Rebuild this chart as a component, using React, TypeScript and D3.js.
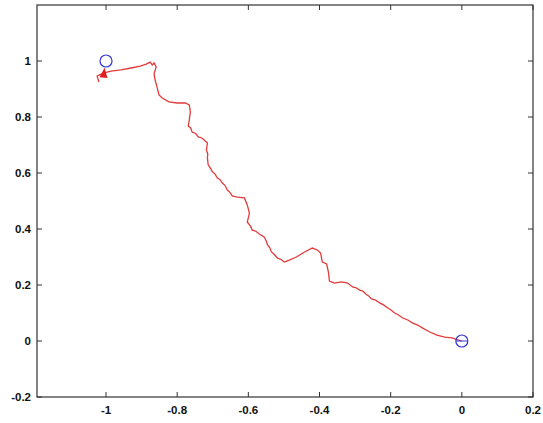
import React from "react";
import * as d3 from "d3";

// path of the walker, from the start near (-1, 1) to the target at (0, 0)
const pathX = [
  -1.02, -1.025, -1.008, -0.986, -0.958, -0.93, -0.904, -0.887, -0.876, -0.87,
  -0.865, -0.859, -0.865, -0.862, -0.856, -0.851, -0.842, -0.823, -0.8, -0.777,
  -0.766, -0.763, -0.766, -0.769, -0.762, -0.758, -0.748, -0.741, -0.732, -0.724,
  -0.715, -0.718, -0.714, -0.715, -0.713, -0.708, -0.701, -0.694, -0.687, -0.68,
  -0.673, -0.666, -0.659, -0.652, -0.645, -0.631, -0.611, -0.603, -0.597, -0.603,
  -0.594, -0.589, -0.579, -0.569, -0.555, -0.55, -0.546, -0.54, -0.535, -0.527,
  -0.518, -0.508, -0.499, -0.485, -0.465, -0.442, -0.42, -0.406, -0.397, -0.392,
  -0.38, -0.375, -0.372, -0.358, -0.338, -0.321, -0.307, -0.297, -0.287, -0.278,
  -0.27, -0.262, -0.254, -0.242, -0.231, -0.22, -0.208, -0.199, -0.189, -0.178,
  -0.166, -0.152, -0.138, -0.124, -0.11, -0.09, -0.07, -0.048, -0.028, -0.011, 0,
];
const pathY = [
  0.925, 0.946, 0.957, 0.964, 0.968, 0.975, 0.982, 0.989, 0.996, 0.986,
  0.993, 0.979, 0.954, 0.932, 0.904, 0.879, 0.868, 0.854, 0.85, 0.85,
  0.843, 0.818, 0.789, 0.768, 0.761, 0.746, 0.741, 0.729, 0.726, 0.718,
  0.707, 0.682, 0.668, 0.654, 0.629, 0.62, 0.604, 0.597, 0.582, 0.577,
  0.564, 0.556, 0.539, 0.531, 0.518, 0.514, 0.511, 0.486, 0.457, 0.425,
  0.41, 0.396, 0.392, 0.382, 0.371, 0.358, 0.343, 0.334, 0.318, 0.309,
  0.296, 0.291, 0.282, 0.289, 0.3, 0.318, 0.332, 0.325, 0.314, 0.282,
  0.275, 0.246, 0.214, 0.207, 0.211, 0.207, 0.193, 0.19, 0.182, 0.178,
  0.168, 0.161, 0.15, 0.146, 0.136, 0.129, 0.118, 0.111, 0.1, 0.093,
  0.082, 0.075, 0.064, 0.057, 0.046, 0.032, 0.021, 0.014, 0.011, 0.004, 0,
];

// circle markers (goal and origin)
const markerX = [-1, 0];
const markerY = [1, 0];

// arrow near the start, tail -> tip
const arrowTail = [-1.01, 0.91];
const arrowTip = [-1.004, 0.976];

const xTicks = [-1, -0.8, -0.6, -0.4, -0.2, 0, 0.2];
const yTicks = [-0.2, 0, 0.2, 0.4, 0.6, 0.8, 1];

const W = 543;
const H = 423;
const left = 37;
const right = 533;
const top = 5;
const bottom = 397;

export default function App() {
  const x = d3.scaleLinear().domain([-1.194, 0.2]).range([left, right]);
  const y = d3.scaleLinear().domain([-0.2, 1.2]).range([bottom, top]);

  const pts: [number, number][] = pathX.map((v, i) => [v, pathY[i]]);
  const line = d3
    .line<[number, number]>()
    .x((d) => x(d[0]))
    .y((d) => y(d[1]));

  // arrow head triangle
  const tx = x(arrowTip[0]);
  const ty = y(arrowTip[1]);
  const sx = x(arrowTail[0]);
  const sy = y(arrowTail[1]);
  const ang = Math.atan2(ty - sy, tx - sx);
  const len = 10;
  const hw = 4;
  const bx = tx - len * Math.cos(ang);
  const by = ty - len * Math.sin(ang);
  const head = [
    [tx, ty],
    [bx + hw * Math.sin(ang), by - hw * Math.cos(ang)],
    [bx - hw * Math.sin(ang), by + hw * Math.cos(ang)],
  ]
    .map((p) => p.join(","))
    .join(" ");

  const font = "'Liberation Sans', Arial, sans-serif";
  const tick = 5;
  const axisColor = "#333";

  return (
    <svg
      width={W}
      height={H}
      style={{ position: "absolute", left: 0, top: 0, background: "#fff" }}
    >
      <rect x={0} y={0} width={W} height={H} fill="#fff" />
      <rect
        x={left}
        y={top}
        width={right - left}
        height={bottom - top}
        fill="none"
        stroke={axisColor}
        strokeWidth={1.2}
      />
      {xTicks.map((t) => (
        <g key={"x" + t}>
          <line x1={x(t)} x2={x(t)} y1={bottom} y2={bottom - tick} stroke={axisColor} />
          <line x1={x(t)} x2={x(t)} y1={top} y2={top + tick} stroke={axisColor} />
          <text
            x={x(t)}
            y={414}
            textAnchor="middle"
            fontFamily={font}
            fontWeight="bold"
            fontSize={11.5}
            fill="#111"
          >
            {t}
          </text>
        </g>
      ))}
      {yTicks.map((t) => (
        <g key={"y" + t}>
          <line x1={left} x2={left + tick} y1={y(t)} y2={y(t)} stroke={axisColor} />
          <line x1={right} x2={right - tick} y1={y(t)} y2={y(t)} stroke={axisColor} />
          <text
            x={31}
            y={y(t) + 4}
            textAnchor="end"
            fontFamily={font}
            fontWeight="bold"
            fontSize={11.5}
            fill="#111"
          >
            {t}
          </text>
        </g>
      ))}
      <path d={line(pts) ?? ""} fill="none" stroke="#e23a3a" strokeWidth={1.3} />
      <polygon points={head} fill="#e01e1e" />
      {markerX.map((v, i) => (
        <circle
          key={"m" + i}
          cx={x(v)}
          cy={y(markerY[i])}
          r={6}
          fill="none"
          stroke="#3434d8"
          strokeWidth={1.2}
        />
      ))}
      <line
        x1={x(markerX[1]) - 6}
        x2={x(markerX[1]) + 6}
        y1={y(markerY[1])}
        y2={y(markerY[1])}
        stroke="#3434d8"
        strokeWidth={1}
      />
    </svg>
  );
}
